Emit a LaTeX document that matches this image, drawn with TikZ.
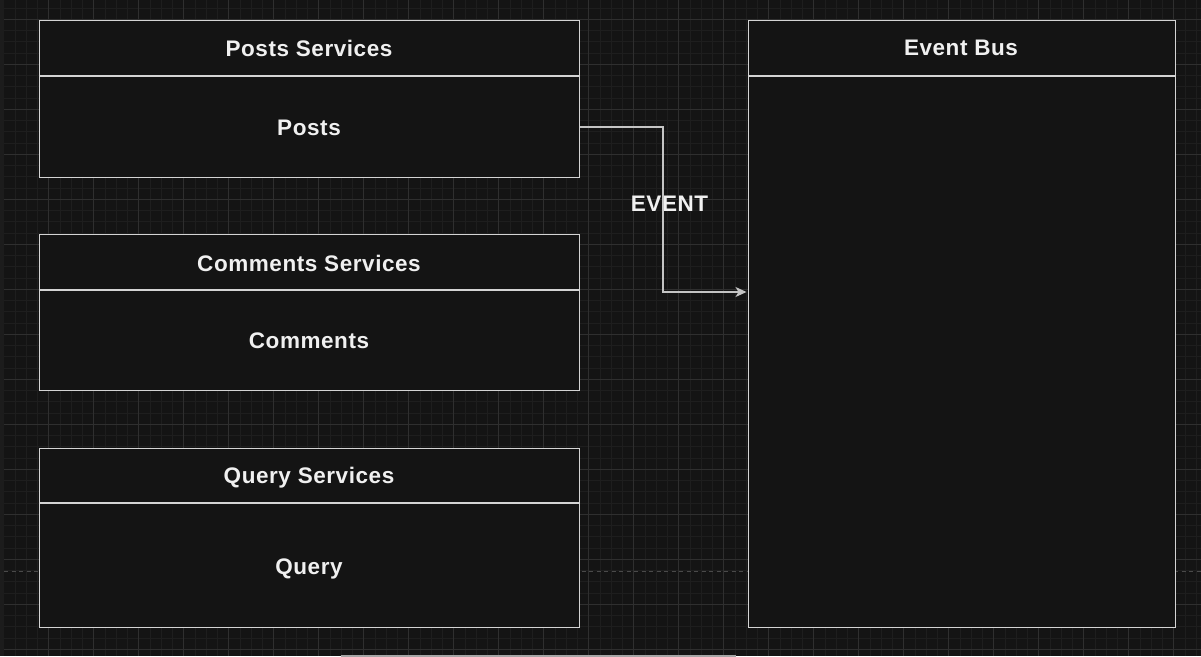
\documentclass[tikz,border=0pt]{standalone}
\usepackage{fontspec}
\setmainfont{Liberation Sans}
\newfontfamily\lblfont[LetterSpace=2.5]{Liberation Sans}
\usetikzlibrary{arrows.meta,calc}
\definecolor{bg}{HTML}{141414}
\definecolor{gridminor}{HTML}{1E1E1E}
\definecolor{gridmajor}{HTML}{2F2F2F}
\definecolor{boxline}{HTML}{D4D4D4}
\definecolor{arrowline}{HTML}{C4C4C4}
\definecolor{txt}{HTML}{F0F0F0}
\definecolor{dashline}{HTML}{4A4A4A}
\definecolor{strip}{HTML}{1C1C1C}
\tikzset{
  box/.style={draw=boxline, fill=bg, line width=1.3pt, rectangle, inner sep=0pt, anchor=north west},
  label/.style={text=txt, font=\lblfont\bfseries\fontsize{22.5}{26}\selectfont, inner sep=0pt},
  divider/.style={draw=boxline, line width=1.3pt},
  conn/.style={draw=arrowline, line width=1.2pt, -{Stealth[length=11pt,width=10pt,inset=3pt]}},
}
\begin{document}
\begin{tikzpicture}[x=1pt,y=-1pt]
\useasboundingbox (0,0) rectangle (1201,656);
\fill[bg] (0,0) rectangle (1201,656);
% grid
\foreach \i in {0,...,106} {
  \draw[gridminor, line width=1pt] ({3.75+11.25*\i},0) -- ({3.75+11.25*\i},656);
}
\foreach \j in {0,...,58} {
  \draw[gridminor, line width=1pt] (0,{8.05+11.25*\j}) -- (1201,{8.05+11.25*\j});
}
\foreach \i in {0,...,26} {
  \draw[gridmajor, line width=1pt] ({48.5+45*\i},0) -- ({48.5+45*\i},656);
}
\foreach \j in {0,...,14} {
  \draw[gridmajor, line width=1pt] (0,{19.3+45*\j}) -- (1201,{19.3+45*\j});
}
\fill[strip] (0,0) rectangle (3.5,656);
% page break line
\draw[dashline, line width=1.2pt, dash pattern=on 4pt off 3.5pt] (4,571.3) -- (1201,571.3);
\draw[gray!70, line width=2pt] (341,655.5) -- (736,655.5);

% boxes
\node[box, minimum width=540pt, minimum height=157pt] (posts) at (39,20) {};
\node[box, minimum width=540pt, minimum height=156pt] (comments) at (39,234) {};
\node[box, minimum width=540pt, minimum height=179pt] (query) at (39,448) {};
\node[box, minimum width=427pt, minimum height=607pt] (bus) at (748,20) {};

\draw[divider] (posts.west |- 0,76) -- (posts.east |- 0,76);
\draw[divider] (comments.west |- 0,290) -- (comments.east |- 0,290);
\draw[divider] (query.west |- 0,503) -- (query.east |- 0,503);
\draw[divider] (bus.west |- 0,76) -- (bus.east |- 0,76);

\node[label] (postsT) at (309,48) {Posts Services};
\node[label] (postsB) at (309,128) {Posts};
\node[label] (commT) at (309,263) {Comments Services};
\node[label] (commB) at (309,341) {Comments};
\node[label, anchor=base] (queryT) at (309,483.5) {Query Services};
\node[label, anchor=base] (queryB) at (309,574) {Query};
\node[label] (busT) at (961,48) {Event Bus};
\node[label] (evt) at (669.5,204) {EVENT};

\coordinate (postsout) at (posts.east |- 0,127);
\coordinate (busin) at ($(bus.west |- 0,292)+(-1.5,0)$);
\draw[conn] (postsout) -- (663,127) |- (busin);
\end{tikzpicture}
\end{document}
